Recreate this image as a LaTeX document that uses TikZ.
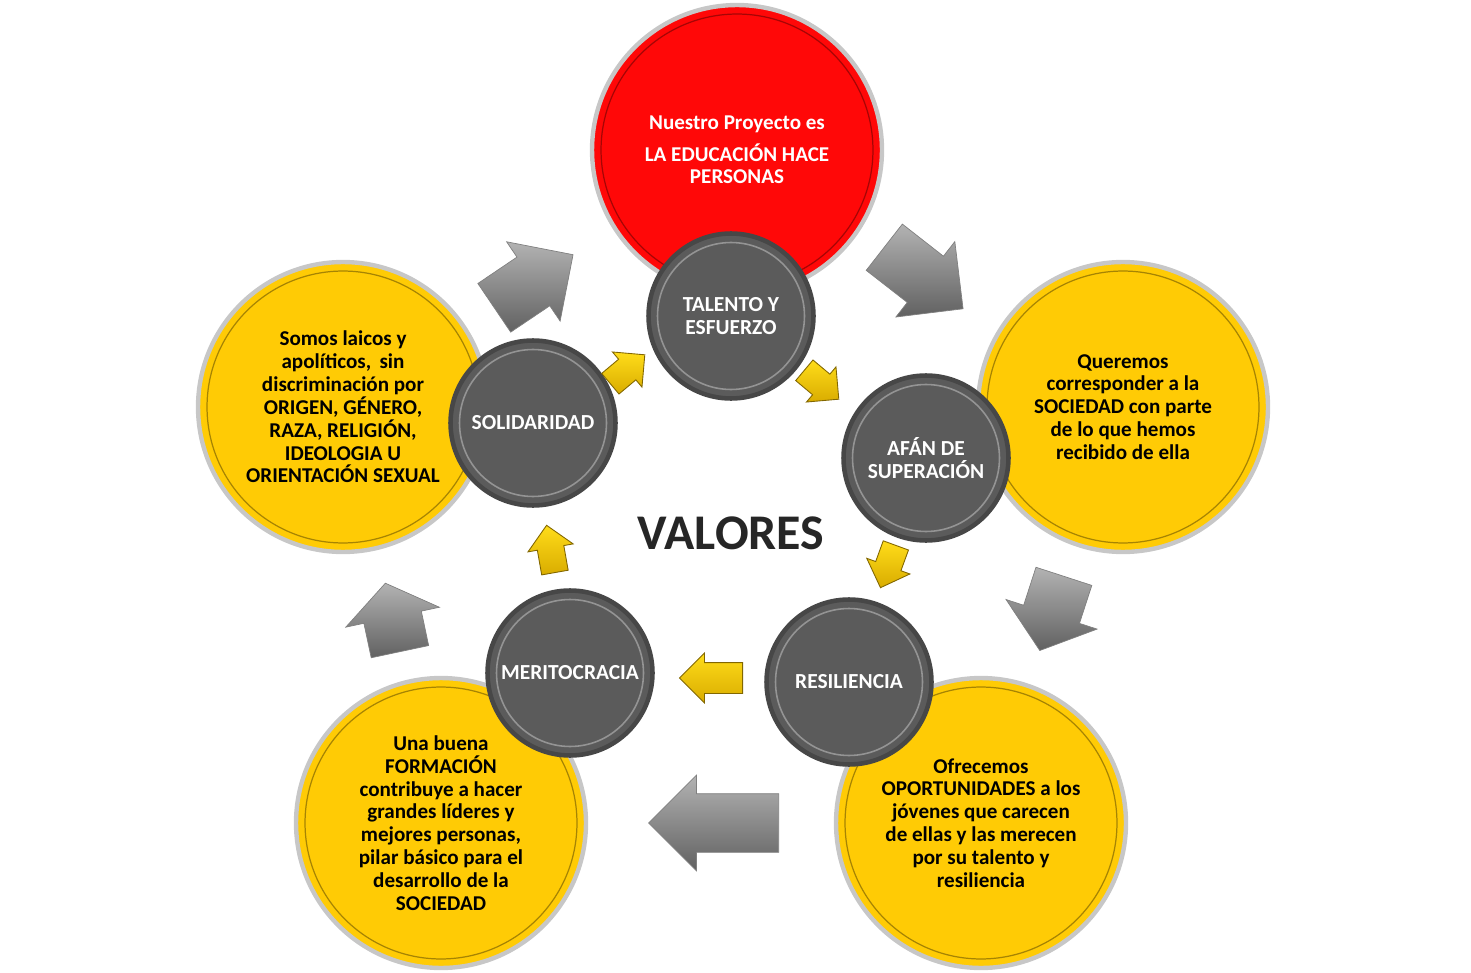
\documentclass[tikz,border=0pt]{standalone}
\usepackage{fontspec}
\setmainfont{Carlito}
\usetikzlibrary{shapes.arrows}
\definecolor{rojo}{HTML}{FF0808}
\definecolor{amarillo}{HTML}{FFCB05}
\definecolor{gris}{HTML}{5B5B5B}
\definecolor{oro}{HTML}{D9AC00}
\definecolor{tinta}{HTML}{262626}
\begin{document}
\begin{tikzpicture}[x=0.02cm, y=-0.02cm,
    grande/.style={circle, minimum size=5.8cm, line width=2.5pt, draw=black!22, align=center,
      font=\fontsize{12}{13}\selectfont\bfseries,
      path picture={\draw[black, opacity=0.35, line width=0.7pt] (path picture bounding box.center) circle (2.72cm);}},
    valor/.style={circle, minimum size=3.3cm, fill=gris, draw=black!72, line width=2.6pt, align=center,
      text=white, font=\fontsize{12.2}{13}\selectfont\bfseries,
      path picture={\draw[white!35!gris, line width=0.9pt] (path picture bounding box.center) circle (1.47cm);}},
    flecha/.style={single arrow, anchor=tail, inner xsep=0pt, inner ysep=0.58cm, minimum height=1.9cm,
      single arrow head extend=0.37cm, draw=black!50, line width=0.4pt,
      top color=black!30, bottom color=black!62},
    flechita/.style={single arrow, anchor=tail, inner xsep=0pt, inner ysep=0.26cm, minimum height=0.9cm,
      single arrow head extend=0.19cm, draw=oro!60!black, line width=0.5pt,
      top color=yellow!70!orange!90, bottom color=oro}
  ]
  \useasboundingbox (0,0) rectangle (1471,973);
  \node[grande, fill=rojo, text=white] (proyecto) at (737,150) {Nuestro Proyecto es\\[5pt] LA EDUCACIÓN HACE\\ PERSONAS};
  \node[grande, fill=amarillo] (sociedad) at (1123,407) {Queremos\\ corresponder a la\\ SOCIEDAD con parte\\ de lo que hemos\\ recibido de ella};
  \node[grande, fill=amarillo] (oportunidades) at (981,823) {Ofrecemos\\ OPORTUNIDADES a los\\ jóvenes que carecen\\ de ellas y las merecen\\ por su talento y\\ resiliencia};
  \node[grande, fill=amarillo] (formacion) at (441,823) {Una buena\\ FORMACIÓN\\ contribuye a hacer\\ grandes líderes y\\ mejores personas,\\ pilar básico para el\\ desarrollo de la\\ SOCIEDAD};
  \node[grande, fill=amarillo] (laicos) at (343,407) {Somos laicos y\\ apolíticos,\, sin\\ discriminación por\\ ORIGEN, GÉNERO,\\ RAZA, RELIGIÓN,\\ IDEOLOGIA U\\ ORIENTACIÓN SEXUAL};
  \node[valor] (talento) at (731,316) {TALENTO Y\\ ESFUERZO};
  \node[valor] (afan) at (926,458) {AFÁN DE\\ SUPERACIÓN};
  \node[valor] (resiliencia) at (849,682) {RESILIENCIA};
  \node[valor] (merito) at (570,673) {MERITOCRACIA};
  \node[valor] (solidaridad) at (533,423) {SOLIDARIDAD};
  \node[text=tinta, font=\fontsize{28.4}{30}\selectfont\bfseries] (valores) at (731,533) {VALORES};
  \node[flecha, rotate=34] (f1) at (494,308) {};
  \node[flecha, rotate=-38, minimum height=2cm] (f2) at (884,247) {};
  \node[flecha, rotate=-108, minimum height=1.56cm, single arrow tip angle=103] (f3) at (1064,576) {};
  \node[flecha, rotate=180, minimum height=2.6cm] (f4) at (779,823) {};
  \node[flecha, rotate=102, minimum height=1.4cm, single arrow tip angle=108] (f5) at (400,652) {};
  \node[flechita, rotate=40] (p1) at (610,384) {};
  \node[flechita, rotate=-40] (p2) at (804,370) {};
  \node[flechita, rotate=-110] (p3) at (896,545) {};
  \node[flechita, rotate=180, minimum height=1.26cm, inner ysep=0.3cm] (p4) at (743,678) {};
  \node[flechita, rotate=100, minimum height=0.96cm] (p5) at (555,573) {};
\end{tikzpicture}
\end{document}
